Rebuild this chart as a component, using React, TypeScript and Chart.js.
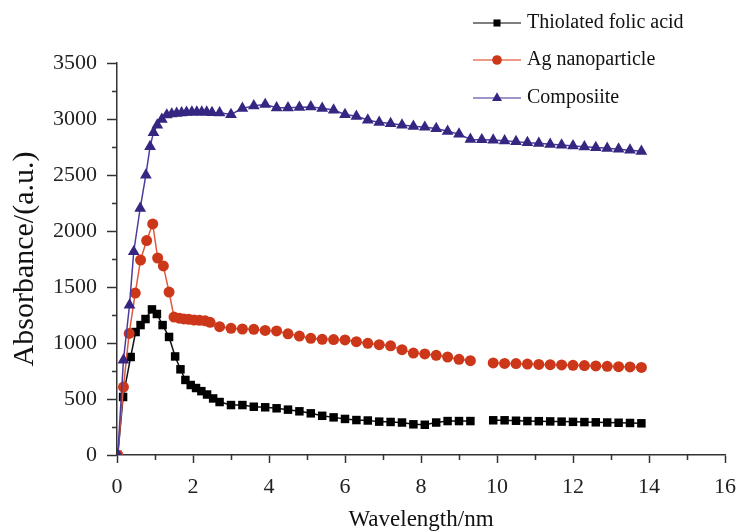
import React, { useEffect, useRef } from 'react';
import { Chart, registerables } from 'chart.js';

Chart.register(...registerables);

const FONT = "'Liberation Serif', 'Times New Roman', Times, serif";

const seriesNames = ['Thiolated folic acid', 'Ag nanoparticle', 'Composiite'];

const tfaX = [0.02, 0.16, 0.36, 0.49, 0.62, 0.75, 0.92, 1.05, 1.2, 1.37, 1.53, 1.67, 1.8, 1.94, 2.08, 2.22, 2.37, 2.53, 2.7, 3.0, 3.3, 3.6, 3.9, 4.2, 4.5, 4.8, 5.1, 5.4, 5.7, 6.0, 6.3, 6.6, 6.9, 7.2, 7.5, 7.8, 8.1, 8.4, 8.7, 9.0, 9.3, 9.6, 9.9, 10.2, 10.5, 10.8, 11.1, 11.4, 11.7, 12.0, 12.3, 12.6, 12.9, 13.2, 13.5, 13.8];
const tfaY = [0, 518, 875, 1098, 1160, 1214, 1300, 1259, 1160, 1054, 880, 765, 670, 625, 598, 570, 540, 505, 473, 446, 446, 431, 426, 417, 405, 390, 372, 350, 336, 322, 312, 308, 298, 295, 290, 274, 270, 290, 303, 303, 303, null, 310, 310, 306, 303, 302, 300, 298, 296, 294, 292, 290, 288, 286, 283];

const agX = [0.02, 0.17, 0.32, 0.48, 0.62, 0.78, 0.94, 1.07, 1.22, 1.37, 1.5, 1.64, 1.76, 1.89, 2.03, 2.17, 2.32, 2.45, 2.7, 3.0, 3.3, 3.6, 3.9, 4.2, 4.5, 4.8, 5.1, 5.4, 5.7, 6.0, 6.3, 6.6, 6.9, 7.2, 7.5, 7.8, 8.1, 8.4, 8.7, 9.0, 9.3, 9.6, 9.9, 10.2, 10.5, 10.8, 11.1, 11.4, 11.7, 12.0, 12.3, 12.6, 12.9, 13.2, 13.5, 13.8];
const agY = [0, 607, 1085, 1446, 1741, 1915, 2063, 1759, 1688, 1455, 1232, 1222, 1215, 1211, 1205, 1203, 1198, 1185, 1146, 1131, 1125, 1122, 1112, 1108, 1082, 1062, 1042, 1033, 1031, 1027, 1012, 997, 985, 975, 940, 910, 902, 890, 875, 854, 842, null, 822, 818, 816, 812, 809, 806, 804, 801, 798, 795, 792, 789, 786, 782];

const compX = [0.02, 0.17, 0.33, 0.44, 0.61, 0.76, 0.87, 0.96, 1.06, 1.18, 1.31, 1.44, 1.57, 1.7, 1.83, 1.97, 2.1, 2.23, 2.36, 2.5, 2.7, 3.0, 3.3, 3.6, 3.9, 4.2, 4.5, 4.8, 5.1, 5.4, 5.7, 6.0, 6.3, 6.6, 6.9, 7.2, 7.5, 7.8, 8.1, 8.4, 8.7, 9.0, 9.3, 9.6, 9.9, 10.2, 10.5, 10.8, 11.1, 11.4, 11.7, 12.0, 12.3, 12.6, 12.9, 13.2, 13.5, 13.8];
const compY = [0, 848, 1339, 1815, 2203, 2500, 2753, 2878, 2946, 2997, 3036, 3045, 3050, 3055, 3060, 3062, 3062, 3062, 3062, 3058, 3055, 3040, 3095, 3118, 3130, 3100, 3100, 3105, 3108, 3095, 3080, 3040, 3024, 2991, 2970, 2960, 2946, 2935, 2927, 2915, 2890, 2865, 2818, 2815, 2812, 2806, 2798, 2789, 2783, 2774, 2768, 2760, 2752, 2745, 2738, 2731, 2722, 2712];

const xMinorTicks = [1, 3, 5, 7, 9, 11, 13, 15];
const yMinorTicks = [250, 750, 1250, 1750, 2250, 2750, 3250];

const markerColors = ['#000000', '#CD3719', '#362682'];
const lineColors = ['#111111', '#E0583A', '#4A3C9E'];
const legendLineColors = ['#555555', '#E8765E', '#7E72B8'];
const pointStyles = ['rect', 'circle', 'triangle'];
const pointRadii = [6, 5.5, 6.8];

const toPoints = (xs: number[], ys: (number | null)[]) => xs.map((x, i) => ({ x, y: ys[i] }));

const AXIS_COLOR = '#333333';

const minorTicksPlugin = {
  id: 'minorTicks',
  afterDraw(chart: any) {
    const { ctx, scales } = chart;
    const x = scales.x;
    const y = scales.y;
    ctx.save();
    ctx.strokeStyle = AXIS_COLOR;
    ctx.lineWidth = 1.5;
    ctx.beginPath();
    for (const v of yMinorTicks) {
      const py = Math.round(y.getPixelForValue(v)) + 0.5;
      ctx.moveTo(x.left - 5, py);
      ctx.lineTo(x.left, py);
    }
    for (const v of xMinorTicks) {
      const px = Math.round(x.getPixelForValue(v)) + 0.5;
      ctx.moveTo(px, y.bottom);
      ctx.lineTo(px, y.bottom + 5);
    }
    ctx.stroke();
    ctx.restore();
  },
};

function drawMarker(ctx: CanvasRenderingContext2D, style: string, cx: number, cy: number, r: number, color: string) {
  ctx.fillStyle = color;
  ctx.beginPath();
  if (style === 'rect') {
    const s = r * Math.SQRT1_2;
    ctx.rect(cx - s, cy - s, 2 * s, 2 * s);
  } else if (style === 'circle') {
    ctx.arc(cx, cy, r, 0, Math.PI * 2);
  } else {
    ctx.moveTo(cx, cy - r);
    ctx.lineTo(cx + r * Math.cos(Math.PI / 6), cy + r / 2);
    ctx.lineTo(cx - r * Math.cos(Math.PI / 6), cy + r / 2);
    ctx.closePath();
  }
  ctx.fill();
}

const legendPlugin = {
  id: 'customLegend',
  afterDraw(chart: any) {
    const { ctx } = chart;
    const x0 = 473;
    const x1 = 521;
    const rows = [23, 60, 98];
    const legendR = [5, 4.8, 5.8];
    ctx.save();
    seriesNames.forEach((name, i) => {
      const yy = rows[i];
      ctx.strokeStyle = legendLineColors[i];
      ctx.lineWidth = 1.5;
      ctx.beginPath();
      ctx.moveTo(x0, yy);
      ctx.lineTo(x1, yy);
      ctx.stroke();
      drawMarker(ctx, pointStyles[i], (x0 + x1) / 2, yy, legendR[i], markerColors[i]);
      ctx.fillStyle = '#111111';
      ctx.font = `20px ${FONT}`;
      ctx.textBaseline = 'middle';
      ctx.textAlign = 'left';
      ctx.fillText(name, 527, yy);
    });
    ctx.restore();
  },
};

export default function App() {
  const canvasRef = useRef<HTMLCanvasElement | null>(null);

  useEffect(() => {
    document.body.style.margin = '0';
    const canvas = canvasRef.current;
    if (!canvas) return;
    const seriesData = [toPoints(tfaX, tfaY), toPoints(agX, agY), toPoints(compX, compY)];
    const chart = new Chart(canvas, {
      type: 'line',
      data: {
        datasets: seriesData.map((d, i) => ({
          label: seriesNames[i],
          data: d,
          borderColor: lineColors[i],
          backgroundColor: markerColors[i],
          borderWidth: 1.5,
          pointStyle: pointStyles[i] as any,
          pointRadius: pointRadii[i],
          pointBackgroundColor: markerColors[i],
          pointBorderColor: markerColors[i],
          pointBorderWidth: 0,
          spanGaps: false,
          tension: 0,
          order: 3 - i,
        })),
      },
      options: {
        responsive: false,
        animation: false,
        devicePixelRatio: 1,
        layout: { padding: { top: 63, right: 15, left: 0, bottom: 0 } },
        plugins: {
          legend: { display: false },
          tooltip: { enabled: false },
        },
        scales: {
          x: {
            type: 'linear',
            min: 0,
            max: 16,
            ticks: {
              stepSize: 2,
              color: '#222222',
              font: { size: 22, family: FONT },
              padding: 11,
              maxRotation: 0,
              autoSkip: false,
              callback: (v: any) => String(v),
            },
            grid: {
              drawOnChartArea: false,
              drawTicks: true,
              tickLength: 8,
              tickColor: AXIS_COLOR,
              tickWidth: 1.5,
            },
            border: { display: true, color: AXIS_COLOR, width: 1.5 },
            title: {
              display: true,
              text: 'Wavelength/nm',
              color: '#111111',
              font: { size: 23, family: FONT, lineHeight: 1.0 },
              padding: { top: 0, bottom: 0 },
            },
            afterFit: (s: any) => {
              s.height = 76;
              s.paddingRight = 10;
              s.paddingLeft = 0;
            },
          },
          y: {
            type: 'linear',
            min: 0,
            max: 3500,
            ticks: {
              stepSize: 500,
              color: '#222222',
              font: { size: 22, family: FONT },
              padding: 10,
              callback: (v: any) => String(v),
            },
            grid: {
              drawOnChartArea: false,
              drawTicks: true,
              tickLength: 10,
              tickColor: AXIS_COLOR,
              tickWidth: 1.5,
            },
            border: { display: true, color: AXIS_COLOR, width: 1.5 },
            title: {
              display: true,
              text: 'Absorbance/(a.u.)',
              color: '#111111',
              font: { size: 30, family: FONT },
              padding: { top: 7, bottom: 0 },
            },
            afterFit: (s: any) => {
              s.width = 117;
            },
          },
        },
      },
      plugins: [minorTicksPlugin, legendPlugin],
    });
    return () => chart.destroy();
  }, []);

  return (
    <div style={{ width: 740, height: 531 }}>
      <canvas ref={canvasRef} width={740} height={531} style={{ display: 'block', width: 740, height: 531 }} />
    </div>
  );
}
